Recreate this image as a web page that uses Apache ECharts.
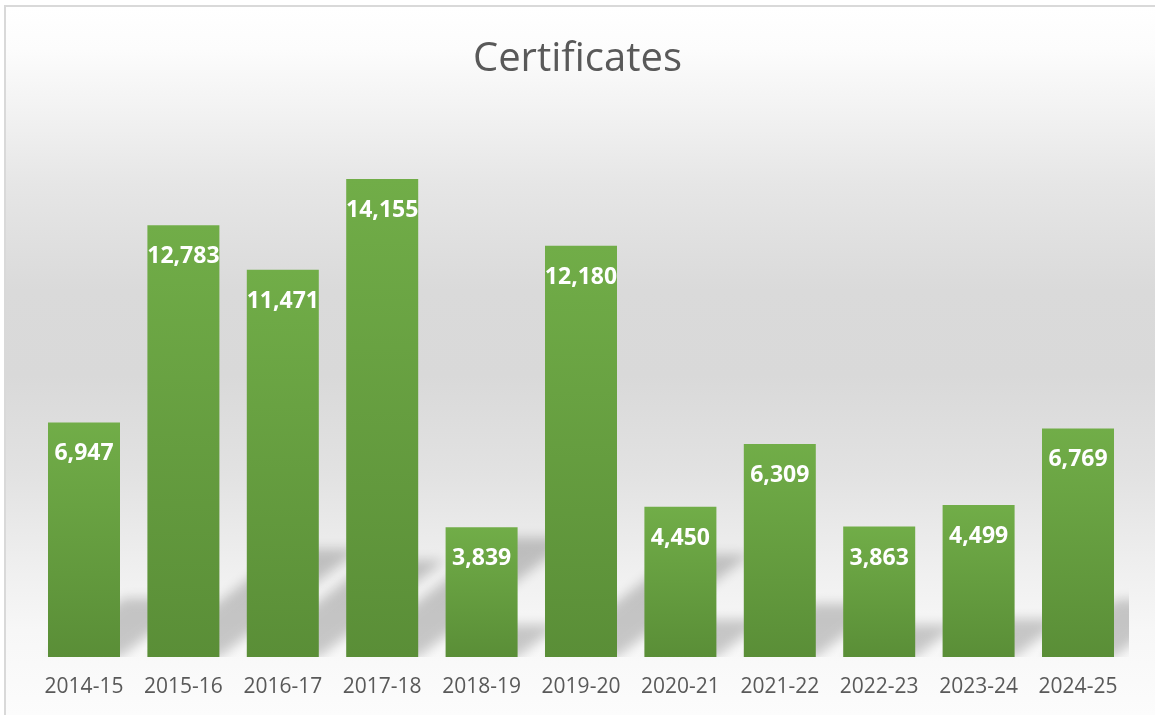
<!DOCTYPE html>
<html lang="en">

<head>
  <meta charset="UTF-8">
  <script type="text/javascript" src="https://cdn.jsdelivr.net/npm/echarts@6.0.0/dist/echarts.min.js"></script>
  <title>Certificates</title>
  <style>
    html,
    body {
      margin: 0;
      padding: 0;
      width: 1155px;
      height: 715px;
      overflow: hidden;
      background: #fff;
    }

    /* chart frame with the grey-white gradient */
    #frame {
      position: absolute;
      left: 4px;
      top: 5px;
      width: 1151px;
      height: 710px;
      box-sizing: border-box;
      border-top: 2px solid #d9d9d9;
      border-left: 2px solid #d9d9d9;
      background: linear-gradient(to bottom,
          #ffffff 0%,
          #fcfcfc 6%,
          #f3f3f3 14%,
          #e6e6e6 25%,
          #dadada 40%,
          #d9d9d9 52%,
          #e2e2e2 66%,
          #eeeeee 78%,
          #f7f7f7 88%,
          #fcfcfc 100%);
    }

    #chart {
      position: absolute;
      left: 0;
      top: 0;
      width: 1155px;
      height: 715px;
    }
  </style>
</head>

<body>
  <div id="frame"></div>
  <div id="chart"></div>

  <script>
    // data
    const years = ['2014-15', '2015-16', '2016-17', '2017-18', '2018-19', '2019-20',
      '2020-21', '2021-22', '2022-23', '2023-24', '2024-25'];
    const certificates = [6947, 12783, 11471, 14155, 3839, 12180, 4450, 6309, 3863, 4499, 6769];

    const chart = echarts.init(document.getElementById('chart'));

    const OFF = 3000; // shape is drawn off screen, only its blurred shadow shows
    const BAR_W = 72;

    // perspective floor shadow behind each bar
    function renderShadow(params, api) {
      const base = api.coord([api.value(0), 0]);
      const top = api.coord([api.value(0), api.value(1)]);
      const h = base[1] - top[1];
      const sh = h * 0.25;
      const dx = sh * 1.3;
      const x0 = base[0] - BAR_W / 2;
      const x1 = base[0] + BAR_W / 2;
      const y0 = base[1];
      return {
        type: 'polygon',
        shape: {
          points: [
            [x0 + OFF, y0],
            [x1 + OFF, y0],
            [x1 + dx + OFF, y0 - sh],
            [x0 + dx + OFF, y0 - sh]
          ]
        },
        style: {
          fill: '#000',
          shadowBlur: 12,
          shadowColor: 'rgba(0,0,0,0.2)',
          shadowOffsetX: -OFF,
          shadowOffsetY: 0
        }
      };
    }

    chart.setOption({
      backgroundColor: 'transparent',
      animation: false,
      title: {
        text: 'Certificates',
        left: 'center',
        top: 35,
        textStyle: {
          fontFamily: 'Open Sans',
          fontSize: 40,
          fontWeight: 'normal',
          color: '#595959'
        }
      },
      grid: {
        left: 34.3,
        right: 27.3,
        top: 116.7,
        bottom: 58
      },
      xAxis: {
        type: 'category',
        data: years,
        axisLine: { show: false },
        axisTick: { show: false },
        axisLabel: {
          interval: 0,
          margin: 20,
          fontFamily: 'Open Sans',
          fontSize: 21,
          color: '#595959'
        }
      },
      yAxis: {
        type: 'value',
        min: 0,
        max: 16000,
        show: false
      },
      series: [
        {
          type: 'custom',
          renderItem: renderShadow,
          clip: true,
          z: 1,
          silent: true,
          encode: { x: 0, y: 1 },
          data: certificates.map((v, i) => [i, v])
        },
        {
          type: 'bar',
          data: certificates,
          barWidth: BAR_W,
          z: 3,
          itemStyle: {
            color: new echarts.graphic.LinearGradient(0, 0, 0, 1, [
              { offset: 0, color: '#71ad48' },
              { offset: 1, color: '#5a8e37' }
            ])
          },
          label: {
            show: true,
            position: 'insideTop',
            distance: 20,
            fontFamily: 'Open Sans',
            fontSize: 23,
            fontWeight: 'bold',
            color: '#ffffff',
            formatter: p => p.value.toLocaleString('en-US')
          }
        }
      ]
    });
  </script>

</body>

</html>
